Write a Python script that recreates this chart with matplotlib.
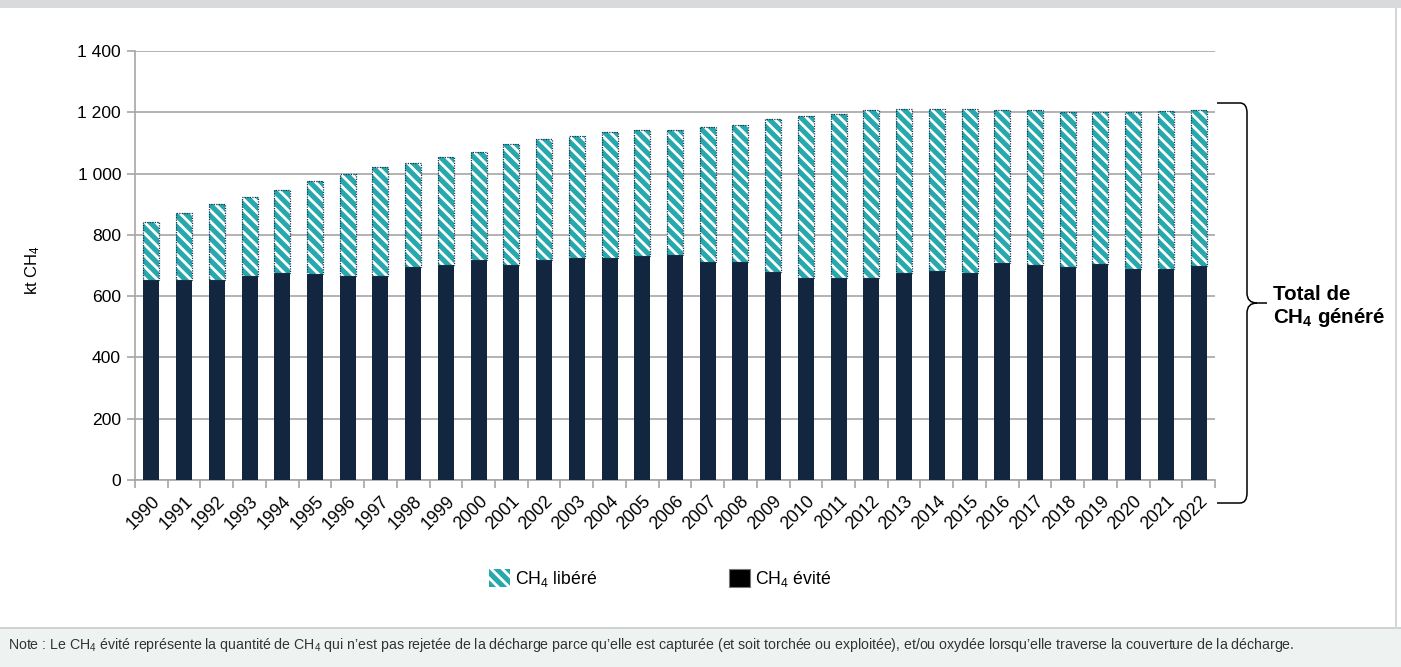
import matplotlib
matplotlib.use('Agg')
import matplotlib.pyplot as plt
import matplotlib.patches as mpatches
from matplotlib.path import Path
import numpy as np

# donnees (kt CH4)
annees = [str(a) for a in range(1990, 2023)]
total_genere = [843, 870, 900, 925, 947, 977, 1000, 1020, 1035, 1053, 1070,
                1095, 1112, 1124, 1135, 1142, 1142, 1153, 1160, 1177, 1188,
                1193, 1206, 1212, 1212, 1212, 1207, 1207, 1200, 1200, 1200,
                1205, 1207]
ch4_evite = [652, 652, 652, 665, 675, 673, 665, 665, 695, 702, 718,
             702, 718, 725, 725, 730, 733, 712, 712, 678, 660,
             660, 660, 677, 683, 677, 707, 703, 695, 705, 688,
             688, 698]
ch4_libere = [t - e for t, e in zip(total_genere, ch4_evite)]
yticks = [0, 200, 400, 600, 800, 1000, 1200, 1400]
ytick_labels = ['0', '200', '400', '600', '800', '1 000', '1 200', '1 400']

plt.rcParams['font.family'] = ['Liberation Sans', 'DejaVu Sans']
plt.rcParams['mathtext.fontset'] = 'custom'
plt.rcParams['mathtext.rm'] = 'Liberation Sans'
plt.rcParams['mathtext.it'] = 'Liberation Sans'
plt.rcParams['mathtext.bf'] = 'Liberation Sans:bold'
plt.rcParams['hatch.linewidth'] = 2.0

W, H = 1401, 667
fig = plt.figure(figsize=(W / 100, H / 100), dpi=100)

def fx(x):
    return x / W

def fy(y):
    return 1 - y / H

# bandeaux de fond
fig.patches.append(mpatches.Rectangle((0, fy(8)), 1, 8 / H, transform=fig.transFigure,
                                      facecolor='#d9dadb', edgecolor='none', zorder=0))
fig.patches.append(mpatches.Rectangle((0, 0), 1, fy(628), transform=fig.transFigure,
                                      facecolor='#eef2f1', edgecolor='none', zorder=0))
fig.lines.append(plt.Line2D([0, 1], [fy(628), fy(628)], transform=fig.transFigure,
                            color='#c8cbcb', lw=1.2))
fig.lines.append(plt.Line2D([fx(1396), fx(1396)], [fy(8), fy(628)], transform=fig.transFigure,
                            color='#d6d8d8', lw=1.5))

ax = fig.add_axes([fx(135), fy(480), fx(1215) - fx(135), fy(51) - fy(480)])
ax.set_facecolor('none')

x = np.arange(len(annees))
teal = '#27a8ac'
navy = '#13263f'
largeur = 0.49

ax.bar(x, ch4_evite, width=largeur, color=navy, zorder=3)
ax.bar(x, ch4_libere, bottom=ch4_evite, width=largeur, facecolor=teal,
       edgecolor='white', hatch='\\\\\\', linewidth=0, zorder=3)
ax.bar(x, ch4_libere, bottom=ch4_evite, width=largeur, fill=False,
       edgecolor='#1d3550', linestyle=(0, (1, 1)), linewidth=0.9, zorder=4)

ax.set_xlim(-0.5, len(annees) - 0.5)
ax.set_ylim(0, 1400)
ax.set_yticks(yticks)
ax.set_yticklabels(ytick_labels, fontsize=12.6)
ax.yaxis.grid(True, color='#a6a6a6', linewidth=1.2, zorder=0)
ax.set_axisbelow(True)

ax.set_xticks(x)
ax.set_xticklabels(annees, rotation=45, ha='right', rotation_mode='anchor', fontsize=12.8)
ax.set_xticks(np.arange(-0.5, len(annees)), minor=True)
ax.tick_params(axis='x', which='major', length=0, pad=9)
ax.tick_params(axis='x', which='minor', length=6, color='#a6a6a6', width=1.2)
ax.tick_params(axis='y', length=6, color='#a6a6a6', width=1.2, pad=4)

for s in ['top', 'right']:
    ax.spines[s].set_visible(False)
for s in ['left', 'bottom']:
    ax.spines[s].set_color('#a6a6a6')
    ax.spines[s].set_linewidth(1.2)

fig.text(fx(33), fy(270), r'kt CH$_4$', rotation=90, ha='center', va='center', fontsize=12)

# accolade a droite
verts = [(1217, 103), (1240, 103), (1240, 103), (1247, 103), (1247, 113),
         (1247, 293), (1247, 303), (1257, 303), (1267, 303),
         (1257, 303), (1247, 303), (1247, 313),
         (1247, 493), (1247, 503), (1240, 503), (1217, 503)]
codes = [Path.MOVETO, Path.LINETO, Path.LINETO, Path.CURVE3, Path.CURVE3,
         Path.LINETO, Path.CURVE3, Path.CURVE3, Path.LINETO,
         Path.MOVETO, Path.CURVE3, Path.CURVE3,
         Path.LINETO, Path.CURVE3, Path.CURVE3, Path.LINETO]
verts = [(fx(a), fy(b)) for a, b in verts]
fig.patches.append(mpatches.PathPatch(Path(verts, codes), transform=fig.transFigure,
                                      facecolor='none', edgecolor='black', lw=1.1))
fig.text(fx(1273), fy(294), 'Total de', fontsize=14.8, fontweight='bold', va='center')
fig.text(fx(1273), fy(318), r'CH$_\mathbf{4}$ généré', fontsize=14.8, fontweight='bold', va='center')

# legende
h1 = mpatches.Patch(facecolor=teal, edgecolor='white', hatch='\\\\\\', linewidth=0)
h2 = mpatches.Patch(facecolor='black', edgecolor='#777777', linewidth=0.8)
fig.legend([h1, h2], [r'CH$_4$ libéré', r'CH$_4$ évité'], ncol=2, frameon=False,
           loc='center left', bbox_to_anchor=(fx(473), fy(579)), fontsize=12.7,
           handlelength=1.2, handleheight=1.2, handletextpad=0.3, columnspacing=7.45)

fig.text(fx(8), fy(645),
         r'Note : Le CH$_4$ évité représente la quantité de CH$_4$ qui n’est pas rejetée de la décharge '
         r'parce qu’elle est capturée (et soit torchée ou exploitée), et/ou oxydée lorsqu’elle traverse '
         r'la couverture de la décharge.', fontsize=10.2, va='center', color='#333333')

fig.savefig('out.png', dpi=100)
